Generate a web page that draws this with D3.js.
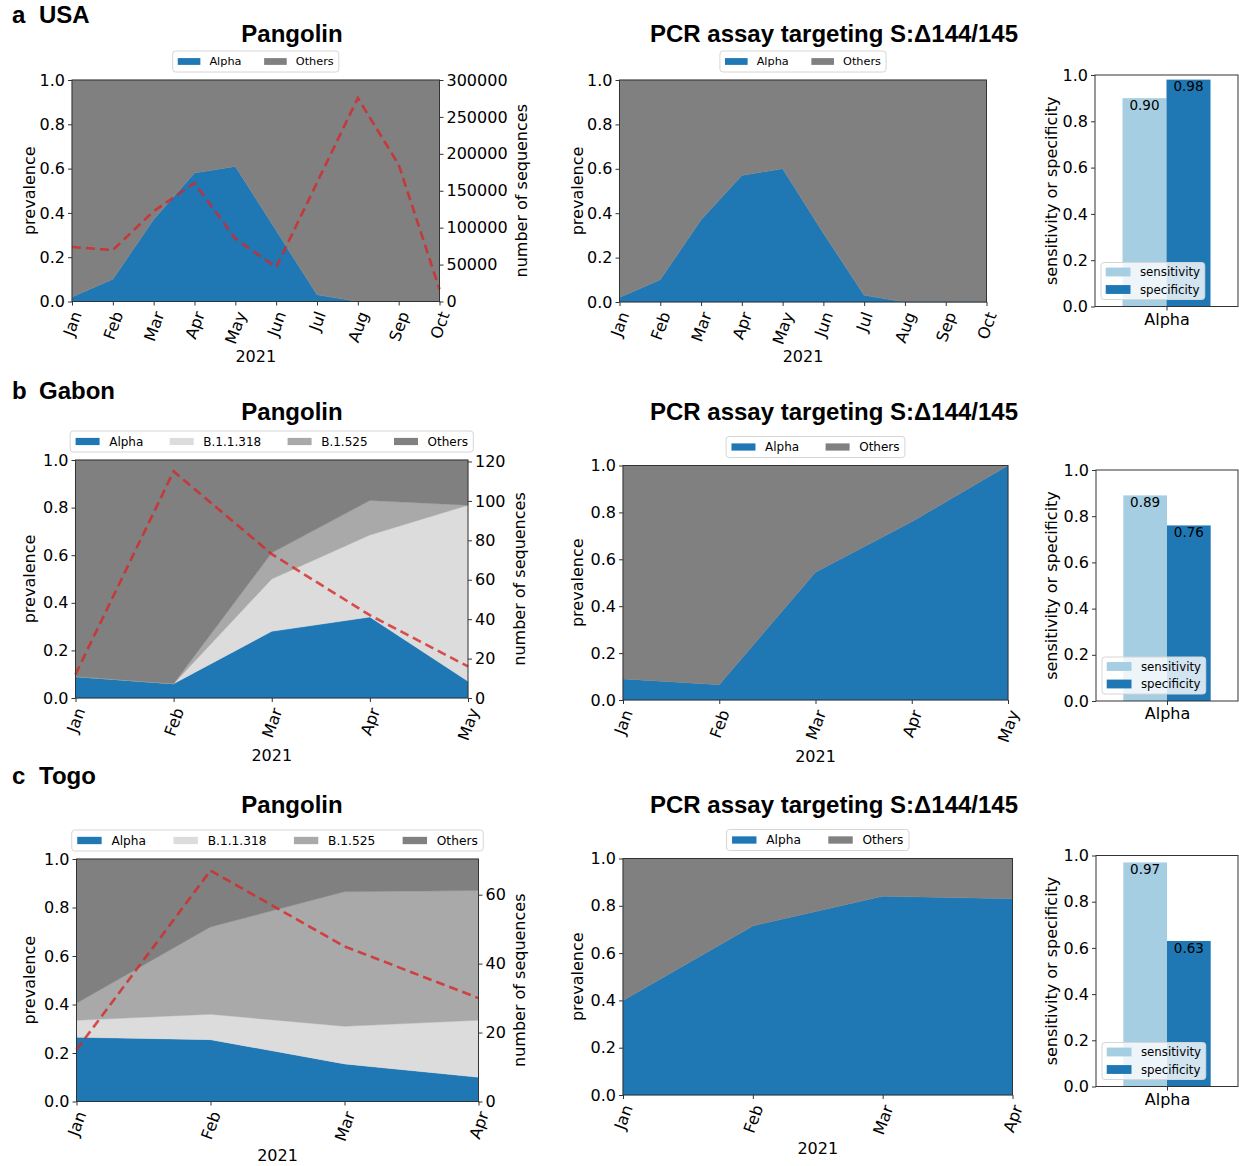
<!DOCTYPE html>
<html><head><meta charset="utf-8">
<script src="https://cdn.jsdelivr.net/npm/d3@7"></script>
<style>body{margin:0;background:#fff} svg text{font-family:"DejaVu Sans",sans-serif;fill:#000}</style>
</head><body><svg id="fig" width="1239" height="1166"></svg>
<script>
// ---------------- DATA ----------------
const seriesNames = ["Alpha","B.1.1.318","B.1.525","Others"];
const seriesColors = ["#1f77b4","#dcdcdc","#a9a9a9","#808080"];
const accuracyMeasures = ["sensitivity","specificity"];
const accuracyColors = ["#a6cee3","#1f78b4"];
const barCategories = ["Alpha"];
const prevalenceTicks = [0,0.2,0.4,0.6,0.8,1.0];

const usaMonths = ["Jan","Feb","Mar","Apr","May","Jun","Jul","Aug","Sep","Oct"];
const usaPangolinAlpha  = [0.02,0.10,0.37,0.58,0.61,0.32,0.03,0.0,0.0,0.0];
const usaPangolinOthers = [0.98,0.90,0.63,0.42,0.39,0.68,0.97,1.0,1.0,1.0];
const usaSequences = [73800,69700,122300,160600,85000,46600,161000,275600,185300,16600];
const usaSeqTicks = [0,50000,100000,150000,200000,250000,300000];
const usaSeqMax = 300000;
const usaPcrAlpha  = [0.02,0.10,0.37,0.57,0.60,0.31,0.03,0.0,0.0,0.0];
const usaPcrOthers = [0.98,0.90,0.63,0.43,0.40,0.69,0.97,1.0,1.0,1.0];
const usaAccuracy = [0.90,0.98];

const gabonMonths = ["Jan","Feb","Mar","Apr","May"];
const gabonPangolinAlpha   = [0.09,0.06,0.28,0.34,0.07];
const gabonPangolinB11318  = [0.0,0.0,0.22,0.345,0.74];
const gabonPangolinB1525   = [0.0,0.0,0.11,0.145,0.0];
const gabonPangolinOthers  = [0.91,0.94,0.39,0.17,0.19];
const gabonSequences = [12,115,73,42,16];
const gabonSeqTicks = [0,20,40,60,80,100,120];
const gabonSeqMax = 120.75;
const gabonPcrAlpha  = [0.09,0.065,0.545,0.76,1.0];
const gabonPcrOthers = [0.91,0.935,0.455,0.24,0.0];
const gabonAccuracy = [0.89,0.76];

const togoMonths = ["Jan","Feb","Mar","Apr"];
const togoPangolinAlpha  = [0.265,0.255,0.155,0.10];
const togoPangolinB11318 = [0.07,0.105,0.155,0.235];
const togoPangolinB1525  = [0.07,0.36,0.555,0.535];
const togoPangolinOthers = [0.595,0.28,0.135,0.13];
const togoSequences = [15,67,45,30];
const togoSeqTicks = [0,20,40,60];
const togoSeqMax = 70.35;
const togoPcrAlpha  = [0.40,0.715,0.84,0.83];
const togoPcrOthers = [0.60,0.285,0.16,0.17];
const togoAccuracy = [0.97,0.63];

// ---------------- DRAWING ----------------
const svg = d3.select("#fig");
const FS = 16, SPINE = "#333";

function styleAxis(g){
  g.attr("font-family","DejaVu Sans").attr("font-size",FS);
  g.select(".domain").remove();
  g.selectAll(".tick line").attr("stroke",SPINE);
  g.selectAll(".tick text").attr("fill","#000");
}

function legendRow(items, cx, top, fs, colspEm){
  const g = svg.append("g");
  const hw = 2*fs, hh = 0.6*fs, pad = 0.8*fs, colsp = colspEm*fs, bp = 0.45*fs, h = 21;
  const tmp = g.append("text").attr("font-size",fs);
  const widths = items.map(it => { tmp.text(it.label); return tmp.node().getComputedTextLength(); });
  tmp.remove();
  const total = 2*bp + d3.sum(widths.map(w => hw+pad+w)) + colsp*(items.length-1);
  const left = cx - total/2;
  g.append("rect").attr("x",left).attr("y",top).attr("width",total).attr("height",h)
    .attr("rx",3).attr("fill","#fff").attr("fill-opacity",0.8).attr("stroke","#d6d6d6");
  let xx = left + bp;
  items.forEach((it,i) => {
    g.append("rect").attr("x",xx).attr("y",top+h/2-hh/2).attr("width",hw).attr("height",hh).attr("fill",it.color);
    g.append("text").attr("x",xx+hw+pad).attr("y",top+h/2).attr("dominant-baseline","central")
      .attr("font-size",fs).text(it.label);
    xx += hw+pad+widths[i]+colsp;
  });
}

function stackPanel(cfg){
  const g = svg.append("g");
  const b = cfg.box;
  const x = d3.scalePoint().domain(cfg.months).range([b.x0,b.x1]);
  const y = d3.scaleLinear().domain([0,1]).range([b.y1,b.y0]);
  const rows = cfg.months.map((m,i) => { const r = {month:m}; cfg.series.forEach(s => r[s.key] = s.values[i]); return r; });
  const stacked = d3.stack().keys(cfg.series.map(s => s.key))(rows);
  const area = d3.area().x(d => x(d.data.month)).y0(d => y(d[0])).y1(d => y(Math.min(1,d[1])));
  g.selectAll("path.layer").data(stacked).join("path").attr("class","layer")
    .attr("d",area).attr("fill",(d,i) => cfg.series[i].color)
    .attr("stroke",(d,i) => cfg.series[i].color).attr("stroke-width",0.4);

  if (cfg.seq){
    const ys = d3.scaleLinear().domain([0,cfg.seqMax]).range([b.y1,b.y0]);
    const line = d3.line().x((d,i) => x(cfg.months[i])).y(d => ys(d));
    g.append("path").attr("d",line(cfg.seq)).attr("fill","none")
      .attr("stroke","#d62728").attr("stroke-opacity",0.8).attr("stroke-width",2.6)
      .attr("stroke-dasharray","9,5");
    const ra = g.append("g").attr("transform",`translate(${b.x1},0)`)
      .call(d3.axisRight(ys).tickValues(cfg.seqTicks).tickFormat(d3.format("d")).tickSize(4).tickPadding(3));
    styleAxis(ra);
    g.append("text").attr("transform",`translate(${cfg.rightLabelX},${(b.y0+b.y1)/2}) rotate(-90)`)
      .attr("text-anchor","middle").attr("dominant-baseline","central").attr("font-size",FS).text("number of sequences");
  }
  g.append("rect").attr("x",b.x0).attr("y",b.y0).attr("width",b.x1-b.x0).attr("height",b.y1-b.y0)
    .attr("fill","none").attr("stroke",SPINE).attr("stroke-width",1);

  const la = g.append("g").attr("transform",`translate(${b.x0},0)`)
    .call(d3.axisLeft(y).tickValues(prevalenceTicks).tickFormat(d3.format(".1f")).tickSize(4).tickPadding(3));
  styleAxis(la);
  const xa = g.append("g").attr("transform",`translate(0,${b.y1})`)
    .call(d3.axisBottom(x).tickSize(4).tickPadding(3));
  styleAxis(xa);
  const ang = 70*Math.PI/180;
  xa.selectAll(".tick text").each(function(){
    const w = this.getComputedTextLength(), h = FS*1.17;
    const H = w*Math.sin(ang) + h*Math.cos(ang);
    d3.select(this).attr("x",0).attr("y",0).attr("dy",null)
      .attr("text-anchor","middle").attr("dominant-baseline","central")
      .attr("transform",`translate(0,${7.5+H/2}) rotate(-70)`);
  });
  g.append("text").attr("x",(b.x0+b.x1)/2).attr("y",cfg.xlabelY).attr("text-anchor","middle")
    .attr("font-size",FS).text("2021");
  g.append("text").attr("transform",`translate(${cfg.ylabelX},${(b.y0+b.y1)/2}) rotate(-90)`)
    .attr("text-anchor","middle").attr("dominant-baseline","central").attr("font-size",FS).text("prevalence");

  legendRow(cfg.series.map(s => ({label:s.key,color:s.color})), (b.x0+b.x1)/2, b.y0-29, cfg.legendFs, cfg.legendSp);

  svg.append("text").attr("x",cfg.titleX).attr("y",cfg.titleY).attr("text-anchor","middle")
    .style("font-family","'Liberation Sans',Arial,sans-serif").attr("font-weight","bold").attr("font-size",24)
    .text(cfg.title);
}

function barPanel(b, values){
  const g = svg.append("g");
  const x = d3.scaleLinear().domain([-0.65,0.65]).range([b.x0,b.x1]);
  const y = d3.scaleLinear().domain([0,1]).range([b.y1,b.y0]);
  const offsets = [-0.2,0.2];
  values.forEach((v,i) => {
    g.append("rect").attr("x",x(offsets[i]-0.2)).attr("width",x(0.4)-x(0))
      .attr("y",y(v)).attr("height",y(0)-y(v)).attr("fill",accuracyColors[i]);
  });
  values.forEach((v,i) => {
    g.append("text").attr("x",x(offsets[i])).attr("y",y(v)+11.8).attr("text-anchor","middle")
      .attr("font-size",13.5).text(d3.format(".2f")(v));
  });
  const fs = 11.8, hw = 2.1*fs, hh = 0.75*fs, lx = b.x0+6, lh = 37, ly = b.y1-7-lh;
  const lg = g.append("g");
  const tmp = lg.append("text").attr("font-size",fs);
  const tw = d3.max(accuracyMeasures, m => { tmp.text(m); return tmp.node().getComputedTextLength(); });
  tmp.remove();
  const lw = 0.4*fs + hw + 0.8*fs + tw + 0.4*fs;
  lg.append("rect").attr("x",lx).attr("y",ly).attr("width",lw).attr("height",lh).attr("rx",3)
    .attr("fill","#fff").attr("fill-opacity",0.8).attr("stroke","#d6d6d6");
  accuracyMeasures.forEach((m,i) => {
    const cy = ly + 9.5 + i*17.5;
    lg.append("rect").attr("x",lx+0.4*fs).attr("y",cy-hh/2).attr("width",hw).attr("height",hh).attr("fill",accuracyColors[i]);
    lg.append("text").attr("x",lx+0.4*fs+hw+0.8*fs).attr("y",cy).attr("dominant-baseline","central")
      .attr("font-size",fs).text(m);
  });
  g.append("rect").attr("x",b.x0).attr("y",b.y0).attr("width",b.x1-b.x0).attr("height",b.y1-b.y0)
    .attr("fill","none").attr("stroke",SPINE).attr("stroke-width",1);
  const la = g.append("g").attr("transform",`translate(${b.x0},0)`)
    .call(d3.axisLeft(y).tickValues(prevalenceTicks).tickFormat(d3.format(".1f")).tickSize(4).tickPadding(3));
  styleAxis(la);
  const xb = d3.scalePoint().domain(barCategories).range([x(0),x(0)]);
  const xa = g.append("g").attr("transform",`translate(0,${b.y1})`)
    .call(d3.axisBottom(xb).tickSize(4).tickPadding(3));
  styleAxis(xa);
  g.append("text").attr("transform",`translate(1051.5,${(b.y0+b.y1)/2}) rotate(-90)`)
    .attr("text-anchor","middle").attr("dominant-baseline","central").attr("font-size",FS)
    .text("sensitivity or specificity");
}

function panelLabel(letter, name, baseline){
  const f = "'Liberation Sans',Arial,sans-serif";
  svg.append("text").attr("x",12).attr("y",baseline).style("font-family",f).attr("font-weight","bold").attr("font-size",24).text(letter);
  svg.append("text").attr("x",39).attr("y",baseline).style("font-family",f).attr("font-weight","bold").attr("font-size",24).text(name);
}

const ser = (names, arrays) => names.map((n,i) => ({key:n, color:seriesColors[seriesNames.indexOf(n)], values:arrays[i]}));

// Row a: USA
panelLabel("a","USA",23);
stackPanel({box:{x0:72,x1:439.5,y0:80,y1:301.5}, months:usaMonths,
  series:ser(["Alpha","Others"],[usaPangolinAlpha,usaPangolinOthers]),
  seq:usaSequences, seqTicks:usaSeqTicks, seqMax:usaSeqMax, rightLabelX:521,
  xlabelY:362, ylabelX:29.5, title:"Pangolin", titleX:292, titleY:42, legendFs:11.3, legendSp:2.0});
stackPanel({box:{x0:619.5,x1:986.5,y0:80,y1:302}, months:usaMonths,
  series:ser(["Alpha","Others"],[usaPcrAlpha,usaPcrOthers]),
  xlabelY:362, ylabelX:577, title:"PCR assay targeting S:Δ144/145", titleX:834, titleY:42, legendFs:11.3, legendSp:2.0});
barPanel({x0:1095,x1:1238,y0:75,y1:306.5}, usaAccuracy);

// Row b: Gabon
panelLabel("b","Gabon",399);
stackPanel({box:{x0:75.5,x1:468,y0:460,y1:698}, months:gabonMonths,
  series:ser(seriesNames,[gabonPangolinAlpha,gabonPangolinB11318,gabonPangolinB1525,gabonPangolinOthers]),
  seq:gabonSequences, seqTicks:gabonSeqTicks, seqMax:gabonSeqMax, rightLabelX:519,
  xlabelY:761, ylabelX:29.5, title:"Pangolin", titleX:292, titleY:419.5, legendFs:12, legendSp:2.2});
stackPanel({box:{x0:623,x1:1008,y0:465.5,y1:700}, months:gabonMonths,
  series:ser(["Alpha","Others"],[gabonPcrAlpha,gabonPcrOthers]),
  xlabelY:762, ylabelX:577, title:"PCR assay targeting S:Δ144/145", titleX:834, titleY:419.5, legendFs:12, legendSp:2.2});
barPanel({x0:1096,x1:1238,y0:470,y1:701}, gabonAccuracy);

// Row c: Togo
panelLabel("c","Togo",784);
stackPanel({box:{x0:76.5,x1:478.5,y0:859,y1:1101.5}, months:togoMonths,
  series:ser(seriesNames,[togoPangolinAlpha,togoPangolinB11318,togoPangolinB1525,togoPangolinOthers]),
  seq:togoSequences, seqTicks:togoSeqTicks, seqMax:togoSeqMax, rightLabelX:519,
  xlabelY:1161, ylabelX:29.5, title:"Pangolin", titleX:292, titleY:812.5, legendFs:12.2, legendSp:2.25});
stackPanel({box:{x0:623,x1:1012.5,y0:858.5,y1:1095}, months:togoMonths,
  series:ser(["Alpha","Others"],[togoPcrAlpha,togoPcrOthers]),
  xlabelY:1154, ylabelX:577, title:"PCR assay targeting S:Δ144/145", titleX:834, titleY:812.5, legendFs:12.2, legendSp:2.25});
barPanel({x0:1096,x1:1238,y0:855.5,y1:1086.5}, togoAccuracy);
</script></body></html>
